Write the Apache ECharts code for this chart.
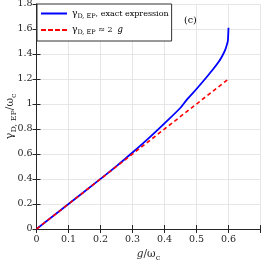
<!DOCTYPE html>
<html><head><meta charset="utf-8">
<script src="https://cdn.jsdelivr.net/npm/echarts@6/dist/echarts.min.js"></script>
<style>html,body{margin:0;padding:0;background:#fff}#c{width:262px;height:263px}</style>
</head><body><div id="c"></div>
<script>
const gExact = [0, 0.1, 0.2, 0.25, 0.3, 0.35, 0.4, 0.45, 0.47, 0.5, 0.53, 0.55, 0.57, 0.58, 0.59, 0.595, 0.598, 0.6];
const yExact = [0, 0.2, 0.401, 0.503, 0.612, 0.725, 0.845, 0.97, 1.035, 1.12, 1.21, 1.272, 1.34, 1.382, 1.435, 1.475, 1.506, 1.61];
const gApprox = [0, 0.6];
const yApprox = [0, 1.2];

const F = 'DejaVu Serif';
const ax = '#262626';
const chart = echarts.init(document.getElementById('c'));
const rich = {
  g: {fontFamily: F, fontSize: 9, color: '#000'},
  s: {fontFamily: F, fontSize: 6.5, color: '#000', padding: [5, 0, 0, 0]},
  t: {fontFamily: F, fontSize: 8, color: '#000'},
  i: {fontFamily: F, fontSize: 8.5, fontStyle: 'italic', color: '#000'}
};
const richAx = {
  g: {fontFamily: F, fontSize: 11.5, color: '#262626'},
  s: {fontFamily: F, fontSize: 8, color: '#262626', padding: [7, 0, 0, 0]},
  t: {fontFamily: F, fontSize: 10.5, color: '#262626'},
  i: {fontFamily: F, fontSize: 10.5, fontStyle: 'italic', color: '#262626'}
};
const solidIcon = 'path://M0,0H26V2H0Z';
const dashIcon = 'path://M0,0H5V2H0Z M7,0H12V2H7Z M14,0H19V2H14Z M21,0H26V2H21Z';
const baseX = {type: 'value', min: 0, max: 0.7, interval: 0.1,
  axisLine: {lineStyle: {color: ax, width: 1}},
  axisTick: {inside: true, length: 4, lineStyle: {color: ax}}};
const baseY = {type: 'value', min: 0, max: 1.8, interval: 0.2,
  axisLine: {show: true, lineStyle: {color: ax, width: 1}},
  axisTick: {show: true, inside: true, length: 4, lineStyle: {color: ax}}};
chart.setOption({
  animation: false,
  textStyle: {fontFamily: F},
  grid: {left: 36.5, right: 1.5, top: 4, bottom: 34, containLabel: false, outerBoundsMode: 'none'},
  legend: {
    left: 37, top: 4, orient: 'vertical', itemWidth: 26, itemHeight: 2, itemGap: 6, align: 'left',
    padding: [5, 3, 5, 4], backgroundColor: '#fff', borderColor: '#333', borderWidth: 1,
    borderRadius: 0,
    data: [{name: 'exact', icon: solidIcon}, {name: 'approx', icon: dashIcon}],
    formatter: n => n === 'exact' ? '{g|γ}{s|D, EP}{t|, exact expression}' : '{g|γ}{s|D, EP}{t| ≈ 2  }{i|g}',
    textStyle: {fontFamily: F, rich: rich}
  },
  xAxis: [
    Object.assign({}, baseX, {position: 'bottom',
      name: '{i|g}{t|/ω}{s|c}', nameLocation: 'middle', nameGap: 18, nameMoveOverlap: false,
      nameTextStyle: {fontFamily: F, rich: richAx},
      axisLabel: {fontFamily: F, fontSize: 9.5, color: '#262626', margin: 6,
        formatter: v => v < 0.65 ? String(Math.round(v * 10) / 10) : ''},
      splitLine: {show: true, lineStyle: {color: '#e6e6e6', width: 1}}}),
    Object.assign({}, baseX, {position: 'top', axisLabel: {show: false}, splitLine: {show: false}})
  ],
  yAxis: [
    Object.assign({}, baseY, {position: 'left',
      name: '{g|γ}{s|D, EP}{t|/ω}{s|c}', nameLocation: 'middle', nameGap: 19, nameRotate: 90,
      nameMoveOverlap: false,
      nameTextStyle: {fontFamily: F, rich: richAx},
      axisLabel: {fontFamily: F, fontSize: 9.5, color: '#262626', margin: 4,
        formatter: v => String(Math.round(v * 10) / 10)},
      splitLine: {show: true, lineStyle: {color: '#e6e6e6', width: 1}}}),
    Object.assign({}, baseY, {position: 'right', axisLabel: {show: false}, splitLine: {show: false}})
  ],
  graphic: [
    {type: 'text', left: 184, top: 16, style: {text: '(c)', fontFamily: F, fontSize: 9.5, fill: '#000'}}
  ],
  series: [
    {name: 'exact', type: 'line', showSymbol: false, symbol: 'none', smooth: 0.25,
      data: gExact.map((g, i) => [g, yExact[i]]),
      lineStyle: {color: '#0000ff', width: 1.8}, itemStyle: {color: '#0000ff'}, z: 3},
    {name: 'approx', type: 'line', showSymbol: false, symbol: 'none',
      data: gApprox.map((g, i) => [g, yApprox[i]]),
      lineStyle: {color: '#ff0000', width: 1.6, type: [4, 3]}, itemStyle: {color: '#ff0000'}, z: 4}
  ]
});
</script></body></html>
